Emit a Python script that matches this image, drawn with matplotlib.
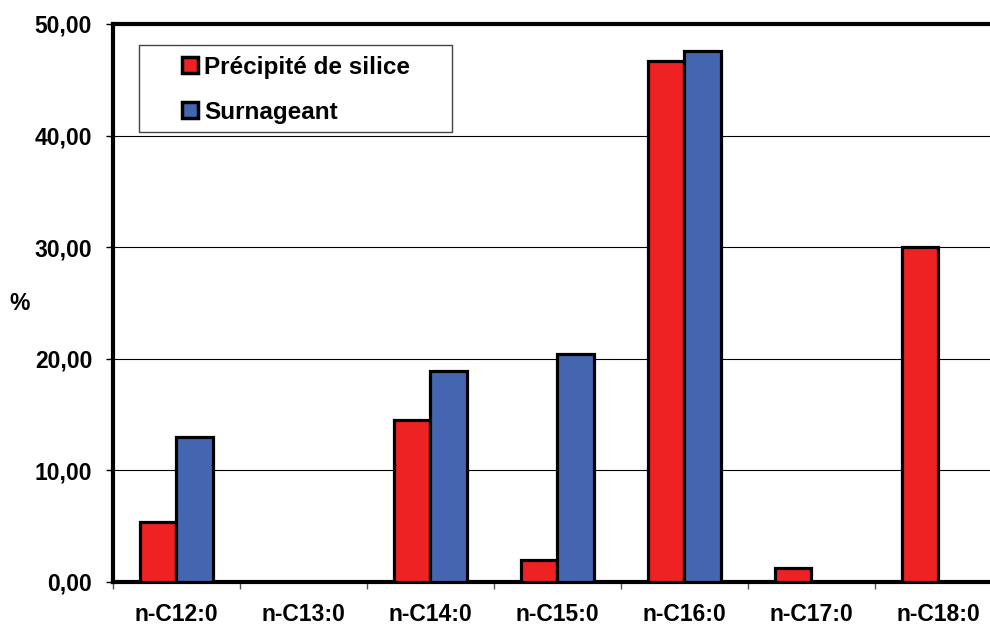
import numpy as np
import matplotlib
matplotlib.use("Agg")
import matplotlib.pyplot as plt
from matplotlib.ticker import FuncFormatter, FixedLocator

plt.rcParams['font.family'] = ['Liberation Sans', 'DejaVu Sans']
plt.rcParams['font.weight'] = 'bold'

categories = ['n-C12:0', 'n-C13:0', 'n-C14:0', 'n-C15:0', 'n-C16:0', 'n-C17:0', 'n-C18:0']
precipite = [5.4, 0.0, 14.5, 2.0, 46.7, 1.25, 30.0]
surnageant = [13.0, 0.0, 18.9, 20.4, 47.6, 0.0, 0.0]
series_names = ['Précipité de silice', 'Surnageant']

red = '#EE2222'
blue = '#4466B0'

fig = plt.figure(figsize=(9.9, 6.25), dpi=100)
ax = fig.add_axes([0.1141, 0.0688, 0.898, 0.8928])

x = np.arange(len(categories))
w = 0.29
for xi, v in zip(x, precipite):
    if v > 0:
        ax.bar(xi - w / 2, v, w, color=red, edgecolor='black', linewidth=2.3, zorder=3)
for xi, v in zip(x, surnageant):
    if v > 0:
        ax.bar(xi + w / 2, v, w, color=blue, edgecolor='black', linewidth=2.3, zorder=3)

ax.set_xlim(-0.5, len(categories) - 0.5)
ax.set_ylim(0, 50)
ax.set_yticks(np.arange(0, 51, 10))
ax.yaxis.set_major_formatter(FuncFormatter(lambda v, p: f"{v:.2f}".replace('.', ',')))
ax.yaxis.grid(True, color='black', linewidth=0.8, zorder=0)

ax.set_xticks(x)
ax.set_xticklabels(categories)
ax.xaxis.set_minor_locator(FixedLocator(np.arange(-0.5, len(categories), 1)))
ax.tick_params(axis='x', which='major', length=0, pad=15, labelsize=16.5)
ax.tick_params(axis='x', which='minor', length=5, width=1, color='#555555')
ax.tick_params(axis='y', length=5, width=1, pad=10, labelsize=16.5)

for s in ['left', 'bottom', 'top']:
    ax.spines[s].set_linewidth(3)
ax.spines['right'].set_visible(False)

fig.text(20 / 990, 1 - 303 / 625, '%', fontsize=16.5, fontweight='bold', ha='center', va='center')

# legend frame drawn separately so the entries can sit off-centre like the original
frame = plt.Rectangle((0.0292, 0.806), 0.352, 0.156, transform=ax.transAxes,
                      facecolor='white', edgecolor='#444444', linewidth=1, zorder=5)
ax.add_patch(frame)

handles = [plt.Rectangle((0, 0), 1, 1, facecolor=red, edgecolor='black', linewidth=2.5),
           plt.Rectangle((0, 0), 1, 1, facecolor=blue, edgecolor='black', linewidth=2.5)]
leg = ax.legend(handles, series_names, loc='center', bbox_to_anchor=(0.206, 0.882),
                fontsize=17.5, handlelength=0.65, handleheight=0.65, handletextpad=0.25,
                labelspacing=0.9, frameon=False, borderpad=0, borderaxespad=0)
leg.set_zorder(6)

fig.savefig('out.png', dpi=100)
